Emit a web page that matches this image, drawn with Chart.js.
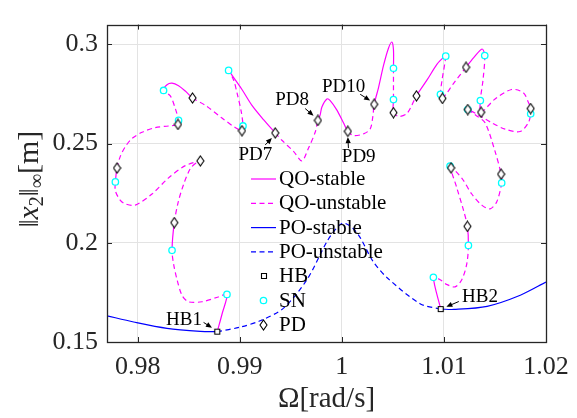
<!DOCTYPE html>
<html>
<head>
<meta charset="utf-8">
<script src="https://cdn.jsdelivr.net/npm/chart.js@4.4.1/dist/chart.umd.min.js"></script>
<style>
  html, body { margin: 0; padding: 0; background: #fff; }
</style>
</head>
<body>
<canvas id="myChart" width="577" height="418"></canvas>
<script>
// axis ticks
const xTicks = [0.98, 0.99, 1, 1.01, 1.02];
const yTicks = [0.15, 0.2, 0.25, 0.3];

// periodic orbit branch (blue)
const poStableLeftOmega = [0.97700, 0.97961, 0.98288, 0.98614, 0.98780];
const poStableLeftAmp   = [0.1632, 0.1601, 0.1569, 0.1554, 0.1552];
const poUnstableOmega = [0.98780, 0.99005, 0.99201, 0.99429, 0.99658, 0.99854, 0.99945, 1.00013, 1.00101, 1.00180, 1.00304, 1.00444, 1.00770, 1.00969];
const poUnstableAmp   = [0.1552, 0.1575, 0.1607, 0.1671, 0.1814, 0.2006, 0.2072, 0.2100, 0.2077, 0.2026, 0.1908, 0.1824, 0.1692, 0.1666];
const poStableRightOmega = [1.00969, 1.01097, 1.01423, 1.01748, 1.02000];
const poStableRightAmp   = [0.1666, 0.1664, 0.1680, 0.1736, 0.1802];

// quasi-periodic branch (magenta), HB1 -> HB2; qoStable[i] = 1 if segment ending at point i is stable
const qoOmega = [
  0.98780, 0.98829, 0.98875, 0.98790, 0.98630, 0.98496, 0.98435, 0.98386, 0.98352, 0.98337,
  0.98359, 0.98398, 0.98450, 0.98516, 0.98581, 0.98614, 0.98467, 0.98300, 0.98141, 0.97977,
  0.97880, 0.97831, 0.97782, 0.97782, 0.97798, 0.97831, 0.97880, 0.97945, 0.98043, 0.98173,
  0.98303, 0.98395, 0.98401, 0.98369, 0.98320, 0.98254, 0.98288, 0.98337, 0.98401, 0.98467,
  0.98538, 0.98663, 0.98826, 0.98956, 0.99022, 0.99032, 0.99015, 0.98973, 0.98940, 0.98891,
  0.98924, 0.99022, 0.99120, 0.99233, 0.99348, 0.99413, 0.99527, 0.99609, 0.99674, 0.99739,
  0.99766, 0.99788, 0.99805, 0.99854, 0.99886, 0.99952, 1.00016, 1.00059, 1.00114, 1.00212,
  1.00277, 1.00304, 1.00317, 1.00359, 1.00408, 1.00457, 1.00490, 1.00506, 1.00506, 1.00506,
  1.00506, 1.00558, 1.00640, 1.00731, 1.00835, 1.00933, 1.00999, 1.01018, 1.00982, 1.00966,
  1.00985, 1.01097, 1.01217, 1.01292, 1.01374, 1.01400, 1.01383, 1.01357, 1.01364, 1.01501,
  1.01664, 1.01778, 1.01827, 1.01850, 1.01850, 1.01827, 1.01746, 1.01599, 1.01469, 1.01337,
  1.01234, 1.01315, 1.01403, 1.01501, 1.01560, 1.01566, 1.01517, 1.01452, 1.01371, 1.01273,
  1.01175, 1.01070, 1.01126, 1.01191, 1.01230, 1.01240, 1.01224, 1.01175, 1.01109, 1.01028,
  1.00963, 1.00897, 1.00969
];
const qoAmp = [
  0.1552, 0.1645, 0.1740, 0.1727, 0.1703, 0.1703, 0.1735, 0.1814, 0.1894, 0.1962,
  0.2102, 0.2206, 0.2294, 0.2374, 0.2406, 0.2413, 0.2389, 0.2326, 0.2246, 0.2190,
  0.2196, 0.2214, 0.2262, 0.2307, 0.2377, 0.2437, 0.2485, 0.2526, 0.2557, 0.2581,
  0.2589, 0.2597, 0.2617, 0.2677, 0.2741, 0.2768, 0.2797, 0.2805, 0.2792, 0.2765,
  0.2730, 0.2693, 0.2629, 0.2581, 0.2565, 0.2589, 0.2661, 0.2757, 0.2821, 0.2869,
  0.2845, 0.2773, 0.2693, 0.2621, 0.2554, 0.2517, 0.2461, 0.2413, 0.2478, 0.2557,
  0.2617, 0.2645, 0.2685, 0.2725, 0.2717, 0.2669, 0.2605, 0.2562, 0.2541, 0.2549,
  0.2573, 0.2637, 0.2698, 0.2781, 0.2893, 0.2981, 0.3012, 0.2973, 0.2880, 0.2722,
  0.2656, 0.2637, 0.2653, 0.2741, 0.2821, 0.2901, 0.2936, 0.2941, 0.2821, 0.2749,
  0.2728, 0.2805, 0.2885, 0.2933, 0.2977, 0.2944, 0.2821, 0.2717, 0.2658, 0.2725,
  0.2773, 0.2757, 0.2709, 0.2677, 0.2650, 0.2605, 0.2561, 0.2573, 0.2605, 0.2645,
  0.2672, 0.2642, 0.2605, 0.2461, 0.2346, 0.2302, 0.2206, 0.2171, 0.2190, 0.2246,
  0.2326, 0.2378, 0.2278, 0.2166, 0.2083, 0.1987, 0.1894, 0.1814, 0.1778, 0.1790,
  0.1814, 0.1826, 0.1666
];
const qoStable = [
  1, 1, 1, 0, 0, 0, 0, 0, 0, 0,
  1, 0, 0, 0, 0, 0, 0, 0, 0, 0,
  0, 0, 0, 0, 1, 0, 0, 0, 0, 0,
  0, 0, 0, 0, 0, 0, 1, 1, 1, 1,
  1, 0, 0, 0, 0, 0, 0, 0, 0, 0,
  1, 1, 1, 1, 1, 0, 0, 0, 0, 0,
  0, 1, 1, 1, 1, 1, 1, 1, 0, 0,
  0, 0, 0, 1, 1, 1, 1, 1, 1, 0,
  1, 0, 0, 0, 1, 1, 1, 1, 0, 0,
  1, 0, 0, 1, 1, 1, 0, 0, 1, 0,
  0, 0, 0, 0, 0, 0, 0, 0, 0, 0,
  0, 0, 0, 0, 0, 1, 0, 0, 0, 0,
  0, 0, 0, 0, 0, 1, 0, 0, 0, 0,
  0, 0, 1
];

// bifurcation points
const hbOmega = [0.98780, 1.00969];
const hbAmp   = [0.1552, 0.1666];
const snOmega = [0.98875, 0.98337, 0.97782, 0.98401, 0.98254, 0.99032, 0.98891, 1.00506, 1.00506, 1.01018,
                 1.00966, 1.01400, 1.01357, 1.01850, 1.01234, 1.01566, 1.01060, 1.01240, 1.00897];
const snAmp   = [0.1740, 0.1962, 0.2307, 0.2617, 0.2768, 0.2589, 0.2869, 0.2880, 0.2722, 0.2941,
                 0.2749, 0.2944, 0.2717, 0.2650, 0.2672, 0.2302, 0.2387, 0.1987, 0.1826];
const pdOmega = [0.98359, 0.98614, 0.97798, 0.98395, 0.98538, 0.99022, 0.99348, 0.99766, 1.00059, 1.00317,
                 1.00506, 1.00731, 1.00985, 1.01217, 1.01364, 1.01850, 1.01234, 1.01560, 1.01070, 1.01230];
const pdAmp   = [0.2102, 0.2413, 0.2377, 0.2597, 0.2730, 0.2565, 0.2554, 0.2617, 0.2562, 0.2698,
                 0.2656, 0.2741, 0.2728, 0.2885, 0.2658, 0.2677, 0.2672, 0.2346, 0.2378, 0.2083];

// labelled points: text anchor and arrow (data coordinates)
const notes = [
  { text: 'HB1',  tx: 0.98278, ty: 0.15877, ax0: 0.98646, ay0: 0.15987, ax1: 0.98728, ay1: 0.15719 },
  { text: 'HB2',  tx: 1.01178, ty: 0.17041, ax0: 1.01146, ay0: 0.17041, ax1: 1.01024, ay1: 0.16773 },
  { text: 'PD7',  tx: 0.98988, ty: 0.24167, ax0: 0.99250, ay0: 0.24934, ax1: 0.99315, ay1: 0.25284 },
  { text: 'PD8',  tx: 0.99348, ty: 0.26932, ax0: 0.99641, ay0: 0.26769, ax1: 0.99723, ay1: 0.26405 },
  { text: 'PD9',  tx: 1.00000, ty: 0.24057, ax0: 1.00065, ay0: 0.24776, ax1: 1.00059, ay1: 0.25332 },
  { text: 'PD10', tx: 0.99805, ty: 0.27617, ax0: 1.00180, ay0: 0.27488, ax1: 1.00277, ay1: 0.27172 }
];

const SERIF = "'Liberation Serif', 'DejaVu Serif', 'Noto Serif', Tinos, 'Nimbus Roman', FreeSerif, Times, serif";
const MAGENTA = '#ff00ff';
const BLUE = '#0000ff';
const CYAN = '#00ffff';
const AXIS = '#262626';
const DASH = [5, 3.5];

const pts = (xs, ys) => xs.map((x, i) => ({ x: x, y: ys[i] }));

function markerImg(kind) {
  const c = document.createElement('canvas');
  // size first: changing width/height resets the context state
  if (kind === 'diamond') { c.width = 9; c.height = 12; } else { c.width = 8; c.height = 8; }
  const g = c.getContext('2d');
  g.strokeStyle = '#000';
  g.fillStyle = '#fff';
  g.lineWidth = 1.1;
  g.beginPath();
  if (kind === 'diamond') {
    g.moveTo(4.5, 1); g.lineTo(8, 6); g.lineTo(4.5, 11); g.lineTo(1, 6);
    g.closePath();
  } else {
    g.rect(1.5, 1.5, 5, 5);
  }
  g.fill();
  g.stroke();
  return c;
}
const diamond = markerImg('diamond');
const square = markerImg('square');

const lineDefaults = { showLine: true, pointRadius: 0, borderWidth: 1.2, fill: false };

const framePlugin = {
  id: 'frame',
  afterDatasetsDraw(chart) {
    const { ctx, chartArea: a, scales } = chart;
    ctx.save();
    ctx.strokeStyle = AXIS;
    ctx.lineWidth = 1;
    ctx.beginPath();
    xTicks.forEach(v => {
      const px = Math.round(scales.x.getPixelForValue(v)) + 0.5;
      ctx.moveTo(px, a.bottom); ctx.lineTo(px, a.bottom - 5);
      ctx.moveTo(px, a.top); ctx.lineTo(px, a.top + 5);
    });
    yTicks.forEach(v => {
      const py = Math.round(scales.y.getPixelForValue(v)) + 0.5;
      ctx.moveTo(a.left, py); ctx.lineTo(a.left + 5, py);
      ctx.moveTo(a.right, py); ctx.lineTo(a.right - 5, py);
    });
    ctx.stroke();
    ctx.lineWidth = 1.3;
    ctx.strokeRect(Math.round(a.left) + 0.5, Math.round(a.top) + 0.5, Math.round(a.right - a.left), Math.round(a.bottom - a.top));
    ctx.restore();
  }
};

const notesPlugin = {
  id: 'notes',
  afterDatasetsDraw(chart) {
    const { ctx, scales } = chart;
    const X = v => scales.x.getPixelForValue(v);
    const Y = v => scales.y.getPixelForValue(v);
    ctx.save();
    ctx.font = '19px ' + SERIF;
    ctx.fillStyle = '#000';
    ctx.strokeStyle = '#000';
    ctx.textBaseline = 'alphabetic';
    ctx.textAlign = 'left';
    notes.forEach(n => {
      ctx.fillText(n.text, X(n.tx), Y(n.ty));
      const x0 = X(n.ax0), y0 = Y(n.ay0), x1 = X(n.ax1), y1 = Y(n.ay1);
      const ang = Math.atan2(y1 - y0, x1 - x0);
      ctx.lineWidth = 1;
      ctx.beginPath();
      ctx.moveTo(x0, y0);
      ctx.lineTo(x1 - 4 * Math.cos(ang), y1 - 4 * Math.sin(ang));
      ctx.stroke();
      ctx.beginPath();
      ctx.moveTo(x1, y1);
      ctx.lineTo(x1 - 6 * Math.cos(ang) + 2.6 * Math.sin(ang), y1 - 6 * Math.sin(ang) - 2.6 * Math.cos(ang));
      ctx.lineTo(x1 - 6 * Math.cos(ang) - 2.6 * Math.sin(ang), y1 - 6 * Math.sin(ang) + 2.6 * Math.cos(ang));
      ctx.closePath();
      ctx.fill();
    });
    ctx.restore();
  }
};

const legendItems = [
  { text: 'QO-stable',   color: MAGENTA, dash: [] },
  { text: 'QO-unstable', color: MAGENTA, dash: DASH },
  { text: 'PO-stable',   color: BLUE, dash: [] },
  { text: 'PO-unstable', color: BLUE, dash: DASH },
  { text: 'HB', marker: 'square' },
  { text: 'SN', marker: 'circle' },
  { text: 'PD', marker: 'diamond' }
];

const legendPlugin = {
  id: 'inlineLegend',
  afterDraw(chart) {
    const ctx = chart.ctx;
    const x0 = 251, x1 = 276, textX = 279;
    ctx.save();
    legendItems.forEach((it, i) => {
      const y = 179 + i * 24.3;
      if (it.marker) {
        const cx = (x0 + x1) / 2;
        if (it.marker === 'circle') {
          ctx.beginPath();
          ctx.arc(cx, y, 3.2, 0, Math.PI * 2);
          ctx.fillStyle = '#fff';
          ctx.fill();
          ctx.strokeStyle = CYAN;
          ctx.lineWidth = 1.3;
          ctx.stroke();
        } else {
          const img = it.marker === 'square' ? square : diamond;
          ctx.drawImage(img, Math.round(cx - img.width / 2), Math.round(y - img.height / 2));
        }
      } else {
        ctx.beginPath();
        ctx.setLineDash(it.dash);
        ctx.strokeStyle = it.color;
        ctx.lineWidth = 1.2;
        ctx.moveTo(x0, y);
        ctx.lineTo(x1, y);
        ctx.stroke();
        ctx.setLineDash([]);
      }
      ctx.font = '21px ' + SERIF;
      ctx.fillStyle = '#000';
      ctx.textBaseline = 'alphabetic';
      ctx.fillText(it.text, textX, y + 6);
    });
    ctx.restore();
  }
};

const yTitlePlugin = {
  id: 'yTitle',
  afterDraw(chart) {
    const ctx = chart.ctx;
    const parts = [
      { t: '\u2016', f: '28px ' + SERIF, dy: 0 },
      { t: 'x', f: 'italic 30px ' + SERIF, dy: 0 },
      { t: '2', f: '20px ' + SERIF, dy: 5 },
      { t: '\u2016', f: '28px ' + SERIF, dy: 0 },
      { t: '\u221E', f: '20px ' + SERIF, dy: 5 },
      { t: '[m]', f: '30px ' + SERIF, dy: 0 }
    ];
    ctx.save();
    let total = 0;
    parts.forEach(p => { ctx.font = p.f; p.w = ctx.measureText(p.t).width; total += p.w; });
    ctx.translate(38, 179);
    ctx.rotate(-Math.PI / 2);
    ctx.fillStyle = AXIS;
    ctx.textBaseline = 'alphabetic';
    let x = -total / 2;
    parts.forEach(p => { ctx.font = p.f; ctx.fillText(p.t, x, p.dy); x += p.w; });
    ctx.restore();
  }
};

new Chart(document.getElementById('myChart').getContext('2d'), {
  type: 'scatter',
  data: {
    datasets: [
      { label: 'HB', data: pts(hbOmega, hbAmp), pointStyle: square, pointRadius: 4, order: 0 },
      { label: 'SN', data: pts(snOmega, snAmp), pointStyle: 'circle', pointRadius: 3.2,
        borderColor: CYAN, backgroundColor: '#fff', borderWidth: 1.3, order: 1 },
      { label: 'PD', data: pts(pdOmega, pdAmp), pointStyle: diamond, pointRadius: 5, order: 0 },
      { ...lineDefaults, label: 'QO', data: pts(qoOmega, qoAmp), borderColor: MAGENTA, tension: 0.3, order: 3,
        segment: { borderDash: ctx => qoStable[ctx.p1DataIndex] ? [] : DASH } },
      { ...lineDefaults, label: 'PO-stable', data: pts(poStableLeftOmega, poStableLeftAmp), borderColor: BLUE, tension: 0.3, order: 4 },
      { ...lineDefaults, label: 'PO-unstable', data: pts(poUnstableOmega, poUnstableAmp), borderColor: BLUE, borderDash: DASH, tension: 0.3, order: 4 },
      { ...lineDefaults, label: 'PO-stable', data: pts(poStableRightOmega, poStableRightAmp), borderColor: BLUE, tension: 0.3, order: 4 }
    ]
  },
  options: {
    responsive: false,
    animation: false,
    layout: { padding: { left: 0, right: 31, top: 9, bottom: 0 } },
    plugins: { legend: { display: false }, tooltip: { enabled: false } },
    scales: {
      x: {
        type: 'linear', min: 0.977, max: 1.02,
        afterBuildTicks: s => { s.ticks = xTicks.map(v => ({ value: v })); },
        afterFit: s => { s.height = 76; },
        ticks: { callback: v => String(v), font: { family: SERIF, size: 26, lineHeight: 1.3 }, color: AXIS, padding: 8, maxRotation: 0, autoSkip: false },
        grid: { color: '#e3e3e3', drawTicks: false },
        border: { display: false },
        title: { display: true, text: '\u03A9[rad/s]', font: { family: SERIF, size: 29 }, color: AXIS, padding: { top: 0, bottom: 1 } }
      },
      y: {
        type: 'linear', min: 0.15, max: 0.31,
        afterBuildTicks: s => { s.ticks = yTicks.map(v => ({ value: v })); },
        afterFit: s => { s.width = 107; },
        ticks: { callback: v => String(v), font: { family: SERIF, size: 26 }, color: AXIS, padding: 9, autoSkip: false },
        grid: { color: '#e3e3e3', drawTicks: false },
        border: { display: false }
      }
    }
  },
  plugins: [framePlugin, notesPlugin, legendPlugin, yTitlePlugin]
});
</script>
</body>
</html>
